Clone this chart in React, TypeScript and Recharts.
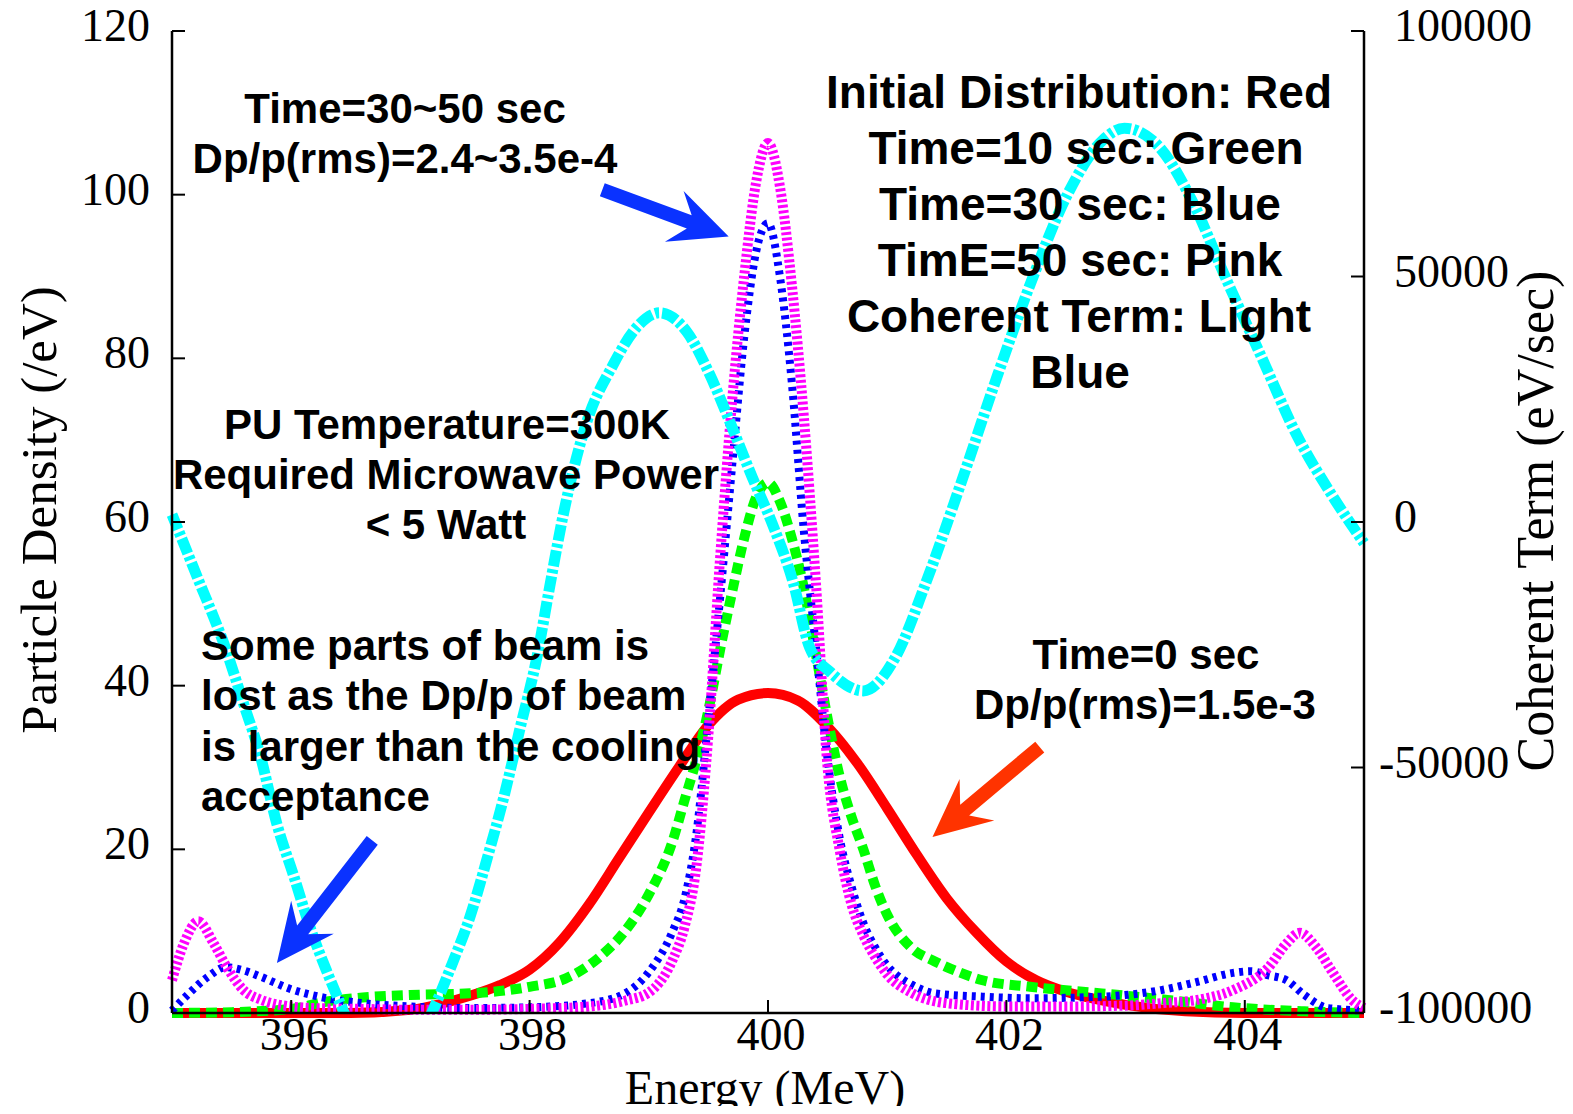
import React from 'react';
import { LineChart, Line, XAxis, YAxis, ReferenceLine } from 'recharts';

// ---------- axis ticks ----------
const X_TICKS = [396, 398, 400, 402, 404];
const Y_LEFT_TICKS = [0, 20, 40, 60, 80, 100, 120];
const Y_RIGHT_TICKS = [-100000, -50000, 0, 50000, 100000];

// ---------- Time = 0 sec (red) ----------
const RED_E = [395, 395.5, 396, 396.5, 397, 397.25, 397.5, 397.75, 398, 398.25, 398.5, 398.75, 399, 399.25, 399.5, 399.75, 400, 400.25, 400.5, 400.75, 401, 401.25, 401.5, 401.75, 402, 402.25, 402.5, 402.75, 403, 403.5, 404, 404.5, 405];
const RED_V = [0, 0, 0, 0, 0.4, 1.1, 2.1, 3.4, 5.3, 8.6, 13.3, 18.9, 24.5, 30, 35.2, 38.3, 39.1, 38.2, 35, 30.5, 25, 19.3, 14, 9.8, 6.3, 4, 2.6, 1.7, 1, 0.2, 0, 0, 0];

// ---------- Time = 10 sec (green) ----------
const GREEN_E = [395, 395.5, 396, 396.3, 396.6, 397, 397.5, 398, 398.3, 398.6, 398.8, 399, 399.2, 399.3, 399.4, 399.5, 399.6, 399.7, 399.8, 399.9, 400, 400.1, 400.2, 400.3, 400.4, 400.5, 400.6, 400.7, 400.8, 400.9, 401, 401.2, 401.4, 401.6, 401.8, 402.2, 402.8, 403.35, 403.9, 404.5, 405];
const GREEN_V = [0, 0.1, 0.5, 1.4, 1.9, 2.2, 2.4, 3.2, 4.2, 7, 10, 14.5, 21, 26, 31, 37, 44.5, 51.5, 58, 63, 64.8, 62.5, 58, 52, 44, 36, 29, 24, 20, 15.5, 12, 8, 6.3, 5, 4, 3.2, 2.4, 1.6, 0.7, 0.2, 0];

// ---------- Time = 30 sec (blue) ----------
const BLUE_E = [395, 395.15, 395.3, 395.45, 395.6, 395.75, 396, 396.3, 396.6, 397, 397.5, 398, 398.5, 398.8, 399, 399.2, 399.3, 399.4, 399.5, 399.6, 399.7, 399.8, 399.9, 400, 400.1, 400.2, 400.3, 400.4, 400.5, 400.6, 400.7, 400.8, 400.9, 401, 401.1, 401.2, 401.4, 401.8, 402.2, 402.8, 403.3, 403.6, 403.9, 404.05, 404.2, 404.35, 404.5, 404.7, 405];
const BLUE_V = [0.3, 2.5, 4.4, 5.6, 5.2, 4.4, 2.9, 1.8, 1.2, 0.8, 0.6, 0.7, 1.2, 2.4, 5, 10, 14, 22, 36, 51, 67, 82.5, 93, 96.5, 90, 77, 59, 45, 31, 21.5, 15.5, 11, 8, 5.8, 4.4, 3.5, 2.4, 2, 1.8, 2, 2.8, 3.8, 4.9, 5.1, 4.6, 4, 2.2, 0.6, 0.3];

// ---------- Time = 50 sec (pink) ----------
const PINK_E = [395, 395.1, 395.22, 395.35, 395.46, 395.6, 395.75, 395.9, 396.2, 396.6, 397, 397.5, 398, 398.5, 398.8, 399, 399.2, 399.3, 399.4, 399.5, 399.6, 399.7, 399.8, 399.9, 400, 400.1, 400.2, 400.3, 400.4, 400.5, 400.6, 400.7, 400.8, 400.9, 401, 401.2, 401.5, 402, 402.5, 403, 403.3, 403.6, 403.9, 404.2, 404.35, 404.46, 404.6, 404.74, 404.9, 405];
const PINK_V = [4, 8.5, 11.2, 8.5, 5.6, 2.8, 1.6, 1, 0.6, 0.5, 0.4, 0.4, 0.5, 0.8, 1.5, 2.5, 6.5, 10.5, 18, 34, 56, 75, 90, 101.5, 106.3, 101, 89, 73, 53, 30, 20, 13.3, 9.5, 6.8, 4.7, 2.5, 1.2, 0.8, 0.8, 0.9, 1.2, 1.6, 2.8, 5.6, 8.5, 9.8, 8, 4.9, 1.6, 0.6];

// ---------- Coherent term (light blue, right axis) ----------
const CYAN_E = [395, 395.2, 395.46, 395.6, 395.74, 395.88, 396.02, 396.16, 396.3, 396.41, 396.6, 396.8, 397, 397.19, 397.35, 397.5, 397.65, 397.78, 397.92, 398.06, 398.17, 398.28, 398.48, 398.7, 398.9, 399.09, 399.32, 399.51, 399.68, 399.87, 400.04, 400.21, 400.35, 400.52, 400.8, 401.07, 401.33, 401.62, 401.92, 402.22, 402.51, 402.81, 402.99, 403.25, 403.55, 403.84, 404.14, 404.44, 404.73, 405];
const CYAN_V = [1500, -10500, -26500, -37000, -47500, -61500, -72000, -82700, -91600, -98000, -108000, -112000, -108000, -99400, -90000, -80400, -68000, -56400, -42000, -27700, -13000, 1200, 20400, 32000, 39700, 42600, 38700, 30100, 20400, 9000, -600, -12200, -25600, -30500, -34400, -27500, -12000, 8000, 29500, 49700, 66600, 77800, 80200, 77200, 65800, 49700, 33600, 17500, 5500, -4300];

// ---------- annotation arrows (data units, left axis) ----------
const ARROWS = [
  { color: '#0a32ff', from: { x: 398.61, y: 100.6 }, to: { x: 399.67, y: 94.9 } },
  { color: '#0a32ff', from: { x: 396.68, y: 21.1 }, to: { x: 395.88, y: 6.1 } },
  { color: '#ff3300', from: { x: 402.28, y: 32.5 }, to: { x: 401.38, y: 21.5 } },
];

const zip = (es: number[], vs: number[]) => es.map((e, i) => ({ e, v: vs[i] }));
const RED = zip(RED_E, RED_V);
const GREEN = zip(GREEN_E, GREEN_V);
const BLUE = zip(BLUE_E, BLUE_V);
const PINK = zip(PINK_E, PINK_V);
const CYAN = zip(CYAN_E, CYAN_V);

const SERIF = "'Liberation Serif', 'Times New Roman', Times, serif";
const SANS = "'Liberation Sans', Arial, Helvetica, sans-serif";
const TICK_LEN = 13;

const BottomTick = (p: any) => (
  <g>
    <line x1={p.x} y1={p.y} x2={p.x} y2={p.y - TICK_LEN} stroke="#000" strokeWidth={2} />
    <text x={p.x + 3} y={p.y + 37} textAnchor="middle" fontFamily={SERIF} fontSize={46} fill="#000">
      {p.payload.value}
    </text>
  </g>
);

const TopTick = (p: any) => (
  <line x1={p.x} y1={p.y} x2={p.x} y2={p.y + TICK_LEN} stroke="#000" strokeWidth={2} />
);

const LeftTick = (p: any) => (
  <g>
    <line x1={p.x} y1={p.y} x2={p.x + TICK_LEN} y2={p.y} stroke="#000" strokeWidth={2} />
    <text x={p.x - 22} y={p.y + 10} textAnchor="end" fontFamily={SERIF} fontSize={46} fill="#000">
      {p.payload.value}
    </text>
  </g>
);

const RightTick = (p: any) => {
  const v = p.payload.value;
  return (
    <g>
      <line x1={p.x} y1={p.y} x2={p.x - TICK_LEN} y2={p.y} stroke="#000" strokeWidth={2} />
      <text x={p.x + (v < 0 ? 15 : 30)} y={p.y + 10} textAnchor="start" fontFamily={SERIF} fontSize={46} fill="#000">
        {v}
      </text>
    </g>
  );
};

const arrowShape = (color: string) => (props: any) => {
  const { x1, y1, x2, y2 } = props;
  const dx = x2 - x1;
  const dy = y2 - y1;
  const L = Math.hypot(dx, dy) || 1;
  const ux = dx / L;
  const uy = dy / L;
  const nx = -uy;
  const ny = ux;
  const hw = 7;
  const headL = 58;
  const headW = 27;
  const notch = 42;
  const bx = x2 - ux * notch;
  const by = y2 - uy * notch;
  const hx = x2 - ux * headL;
  const hy = y2 - uy * headL;
  const pts = [
    [x1 + nx * hw, y1 + ny * hw],
    [bx + nx * hw, by + ny * hw],
    [hx + nx * headW, hy + ny * headW],
    [x2, y2],
    [hx - nx * headW, hy - ny * headW],
    [bx - nx * hw, by - ny * hw],
    [x1 - nx * hw, y1 - ny * hw],
  ]
    .map((q) => q.join(','))
    .join(' ');
  return <polygon points={pts} fill={color} />;
};

type TextLine = { t: string; x: number; y: number; size: number; anchor: 'start' | 'middle' | 'end' };

const NOTES: TextLine[] = [
  { t: 'Initial Distribution: Red', x: 1079, y: 108, size: 46, anchor: 'middle' },
  { t: 'Time=10 sec: Green', x: 1086, y: 164, size: 46, anchor: 'middle' },
  { t: 'Time=30 sec: Blue', x: 1080, y: 220, size: 46, anchor: 'middle' },
  { t: 'TimE=50 sec: Pink', x: 1080, y: 276, size: 46, anchor: 'middle' },
  { t: 'Coherent Term: Light', x: 1079, y: 332, size: 46, anchor: 'middle' },
  { t: 'Blue', x: 1080, y: 388, size: 46, anchor: 'middle' },
  { t: 'Time=30~50 sec', x: 405, y: 123, size: 42, anchor: 'middle' },
  { t: 'Dp/p(rms)=2.4~3.5e-4', x: 405, y: 173, size: 42, anchor: 'middle' },
  { t: 'PU Temperature=300K', x: 447, y: 439, size: 42, anchor: 'middle' },
  { t: 'Required Microwave Power', x: 446, y: 489, size: 42, anchor: 'middle' },
  { t: '< 5 Watt', x: 446, y: 539, size: 42, anchor: 'middle' },
  { t: 'Some parts of beam is', x: 201, y: 660, size: 42, anchor: 'start' },
  { t: 'lost as the Dp/p of beam', x: 201, y: 710, size: 42, anchor: 'start' },
  { t: 'is larger than the cooling', x: 201, y: 761, size: 42, anchor: 'start' },
  { t: 'acceptance', x: 201, y: 811, size: 42, anchor: 'start' },
  { t: 'Time=0 sec', x: 1146, y: 669, size: 42, anchor: 'middle' },
  { t: 'Dp/p(rms)=1.5e-3', x: 1145, y: 719, size: 42, anchor: 'middle' },
];

export default function App() {
  return (
    <div style={{ position: 'relative', width: 1573, height: 1114, margin: -8, background: '#fff' }}>
      <LineChart width={1573} height={1114} margin={{ top: 31, right: 0, bottom: 0, left: 0 }}>
        <XAxis
          xAxisId={0}
          type="number"
          dataKey="e"
          domain={[395, 405]}
          ticks={X_TICKS}
          interval={0}
          height={101}
          tickSize={0}
          tickMargin={0}
          tickLine={false}
          axisLine={{ stroke: '#000', strokeWidth: 2.5 }}
          tick={<BottomTick />}
        />
        <XAxis
          xAxisId="top"
          orientation="top"
          type="number"
          dataKey="e"
          domain={[395, 405]}
          ticks={X_TICKS}
          interval={0}
          height={0}
          tickSize={0}
          tickMargin={0}
          tickLine={false}
          axisLine={{ stroke: '#000', strokeWidth: 2.5 }}
          tick={<TopTick />}
        />
        <YAxis
          yAxisId="l"
          type="number"
          domain={[0, 120]}
          ticks={Y_LEFT_TICKS}
          interval={0}
          width={172}
          tickSize={0}
          tickMargin={0}
          tickLine={false}
          axisLine={{ stroke: '#000', strokeWidth: 2.5 }}
          tick={<LeftTick />}
        />
        <YAxis
          yAxisId="r"
          orientation="right"
          type="number"
          domain={[-100000, 100000]}
          allowDataOverflow
          ticks={Y_RIGHT_TICKS}
          interval={0}
          width={209}
          tickSize={0}
          tickMargin={0}
          tickLine={false}
          axisLine={{ stroke: '#000', strokeWidth: 2.5 }}
          tick={<RightTick />}
        />
        <Line data={RED} dataKey="v" yAxisId="l" type="monotone" stroke="#ff0000" strokeWidth={10} dot={false} activeDot={false} isAnimationActive={false} />
        <Line data={GREEN} dataKey="v" yAxisId="l" type="monotone" stroke="#00ff00" strokeWidth={10} strokeDasharray="11 6" dot={false} activeDot={false} isAnimationActive={false} />
        <Line data={BLUE} dataKey="v" yAxisId="l" type="monotone" stroke="#0000ff" strokeWidth={8} strokeDasharray="4 5" dot={false} activeDot={false} isAnimationActive={false} />
        <Line data={PINK} dataKey="v" yAxisId="l" type="monotone" stroke="#ff00ff" strokeWidth={10} strokeDasharray="3 2.5" dot={false} activeDot={false} isAnimationActive={false} />
        <Line data={CYAN} dataKey="v" yAxisId="r" type="monotone" stroke="#00ffff" strokeWidth={11} strokeDasharray="16 3 4 3" dot={false} activeDot={false} isAnimationActive={false} />
        {ARROWS.map((a, i) => (
          <ReferenceLine
            key={i}
            yAxisId="l"
            segment={[a.from, a.to]}
            ifOverflow="visible"
            shape={arrowShape(a.color)}
          />
        ))}
      </LineChart>
      <svg width={1573} height={1114} style={{ position: 'absolute', left: 0, top: 0, pointerEvents: 'none' }}>
        {NOTES.map((n, i) => (
          <text key={i} x={n.x} y={n.y} textAnchor={n.anchor} fontFamily={SANS} fontWeight="bold" fontSize={n.size} fill="#000">
            {n.t}
          </text>
        ))}
        <text x={765} y={1104} textAnchor="middle" fontFamily={SERIF} fontSize={48} fill="#000">Energy (MeV)</text>
        <text x={56} y={510} textAnchor="middle" fontFamily={SERIF} fontSize={51} fill="#000" transform="rotate(-90 56 510)">Particle Density (/eV)</text>
        <text x={1553} y={521} textAnchor="middle" fontFamily={SERIF} fontSize={52} fill="#000" transform="rotate(-90 1553 521)">Coherent Term (eV/sec)</text>
      </svg>
    </div>
  );
}
